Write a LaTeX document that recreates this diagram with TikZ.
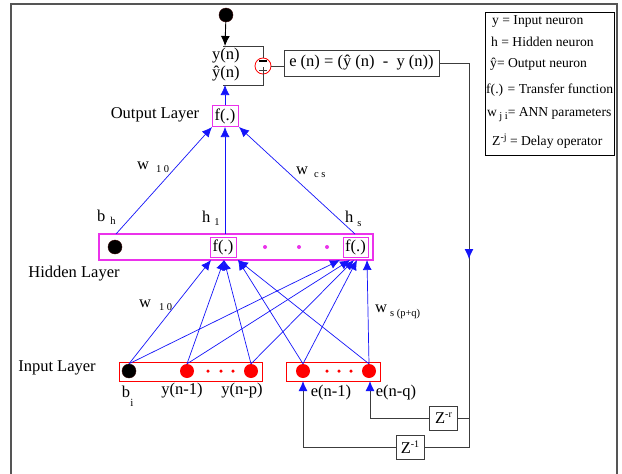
\documentclass[tikz,border=0pt]{standalone}
\usepackage{fontspec}
\setmainfont{Liberation Serif}
\usetikzlibrary{arrows.meta}
\definecolor{mag}{RGB}{235,50,235}
\definecolor{frm}{RGB}{85,85,85}
\definecolor{blu}{RGB}{20,20,250}
\definecolor{gln}{RGB}{60,60,60}
\newcommand\mysub[1]{\raisebox{-0.45ex}{\fontsize{10.5}{12}\selectfont #1}}
\newcommand\mysup[1]{\raisebox{0.75ex}{\fontsize{10}{12}\selectfont #1}}
\begin{document}
\begin{tikzpicture}[x=1pt,y=-1pt,
  lbl/.style={font=\fontsize{16.5}{18}\selectfont, inner sep=0},
  leg/.style={font=\fontsize{13.6}{15}\selectfont, inner sep=0, anchor=west},
  fbox/.style={draw=mag, line width=1pt, font=\fontsize{16.5}{18}\selectfont, minimum width=26pt, minimum height=21pt, inner sep=0},
  zbox/.style={draw=gln, line width=0.9pt, font=\fontsize{16.5}{18}\selectfont, minimum width=28pt, minimum height=24pt, inner sep=0},
  wire/.style={blu, line width=0.7pt, -{Latex[length=10pt,width=9pt]}},
  gline/.style={gln, line width=1pt},
  bdot/.style={circle, fill=black, draw=black!80!red, minimum size=14pt, inner sep=0},
  rdot/.style={circle, fill=red, minimum size=14pt, inner sep=0},
  sdot/.style={circle, fill=red, minimum size=3.5pt, inner sep=0},
  mdot/.style={circle, fill=mag, minimum size=4pt, inner sep=0}]
\useasboundingbox[fill=white] (0,0) rectangle (622,474);
% frame
\draw[frm, line width=1.6pt] (11,474) -- (11,4) -- (617,4) -- (617,474);

% legend
\node[draw=black, line width=0.8pt, minimum width=129pt, minimum height=143pt, inner sep=0] (legbox) at (549.5,83.5) {};
\node[leg] (l1) at (492,22) {y = Input neuron};
\node[leg] (l2) at (491,42) {h = Hidden neuron};
\node[leg] (l3) at (490,64) {ŷ= Output neuron};
\node[leg] (l4) at (486,90) {f(.) = Transfer function};
\node[leg] (l5) at (487,115) {w\,\mysub{j i}= ANN parameters};
\node[leg] (l6) at (492,141) {Z\mysup{-j} = Delay operator};

% top output section
\node[bdot] (td) at (226,15) {};
\coordinate (bt) at (223,46);
\coordinate (btm) at (225,46);
\coordinate (btr) at (263,46);
\coordinate (bbr) at (263,85);
\coordinate (bb) at (223,85);
\coordinate (bbm) at (225,85);
\node[circle, draw=red, fill=white, line width=0.8pt, minimum size=16pt, inner sep=0] (sum) at (263,66) {};
\draw[black, line width=2pt] (259,60.5) -- (267,60.5);
\draw[gln, line width=0.7pt] (259,70.5) -- (267,70.5) (263,67) -- (263,74);
\draw[black, line width=0.9pt, -{Latex[length=10pt,width=9pt]}] (td) -- (btm);
\draw[gline] (bt) -- (btr) -- (sum.north);
\draw[gline] (sum.south) -- (bbr) -- (bb);
\node[lbl, anchor=west] (yn) at (212,56) {y(n)};
\node[lbl, anchor=west] (yhn) at (212,74) {ŷ(n)};
\node[draw=gln, line width=0.9pt, minimum width=155pt, minimum height=26pt, inner sep=0, font=\fontsize{16.5}{18}\selectfont] (eb) at (361.5,63) {e (n) = (ŷ (n) ~-~ y (n))};
\draw[gline] (sum.east) -- (eb.west |- sum.east);

% feedback path
\node[zbox] (zr) at (443.5,418) {Z\mysup{-r}};
\node[zbox] (z1) at (410,447) {Z\mysup{-1}};
\coordinate (c1) at (469,63);
\coordinate (c2) at (469,418);
\coordinate (c3) at (469,447);
\coordinate (cm) at (469,259);
\coordinate (c4) at (370,418);
\coordinate (c5) at (303,447);
\draw[gline] (eb.east |- c1) -- (c1) -- (c3) -- (z1.east);
\draw[gline] (c2) -- (zr.east);
\draw[gline, -{Latex[length=10pt,width=9pt,color=blu]}] (c1) -- (cm);

% output layer
\node[fbox] (fo) at (225,116) {f(.)};
\node[lbl] (ol) at (155,115) {Output Layer};
\draw[wire] (fo.north) -- (bbm);

% hidden layer
\node[draw=mag, line width=1.2pt, minimum width=274pt, minimum height=26pt, inner sep=0] (hl) at (236,247) {};
\node[bdot] (bh) at (115,247) {};
\node[fbox, minimum height=20pt] (h1) at (223,247) {f(.)};
\node[fbox, minimum height=20pt, minimum width=25pt] (hs) at (355.5,247) {f(.)};
\node[mdot] (m1) at (265,247) {};
\node[mdot] (m2) at (299,247) {};
\node[mdot] (m3) at (327,247) {};
\node[lbl] (hll) at (74,274) {Hidden Layer};
\node[lbl, anchor=west] (lbh) at (97,217) {b\hspace{5pt}\mysub{h}};
\node[lbl, anchor=west] (lh1) at (202,218) {h\hspace{4pt}\mysub{1}};
\node[lbl, anchor=west] (lhs) at (345,219) {h\hspace{4pt}\mysub{s}};
\coordinate (hb) at (116,234);
\coordinate (h1t) at (225,234);
\coordinate (hst) at (355,234);
\coordinate (o1) at (212,127);
\coordinate (o2) at (225,127);
\coordinate (o3) at (239,127);
\draw[wire] (hb) -- (o1);
\draw[wire] (h1t) -- (o2);
\draw[wire] (hst) -- (o3);
\node[lbl, anchor=west] (w10a) at (137,167) {w\hspace{7pt}\mysub{1 0}};
\node[lbl, anchor=west] (wcs) at (296,172) {w\hspace{6pt}\mysub{c s}};

% input layer
\node[draw=red, line width=0.8pt, minimum width=143pt, minimum height=19pt, inner sep=0] (ib1) at (190.5,371.5) {};
\node[draw=red, line width=0.8pt, minimum width=94pt, minimum height=19pt, inner sep=0] (ib2) at (333,371.5) {};
\node[bdot] (bi) at (129,371) {};
\node[rdot] (y1) at (187,371) {};
\node[rdot] (yp) at (251,371) {};
\node[rdot] (e1) at (303,371) {};
\node[rdot] (eq) at (369,371) {};
\node[sdot] (s1) at (208,371) {};
\node[sdot] (s2) at (221,371) {};
\node[sdot] (s3) at (233,371) {};
\node[sdot] (s4) at (327,371) {};
\node[sdot] (s5) at (339,371) {};
\node[sdot] (s6) at (351,371) {};
\node[lbl] (ill) at (57,368) {Input Layer};
\node[lbl] (lbi) at (126,392) {b};
\node[inner sep=0, font=\fontsize{11}{12}\selectfont] (lbii) at (132,403) {i};
\node[lbl] (ly1) at (182,391) {y(n-1)};
\node[lbl] (lyp) at (242,391) {y(n-p)};
\node[lbl] (le1) at (331,393) {e(n-1)};
\node[lbl] (leq) at (396,393) {e(n-q)};
\node[lbl, anchor=west] (w10b) at (139,305) {w\hspace{8pt}\mysub{1 0}};
\node[lbl, anchor=west] (wspq) at (375,312) {w\hspace{3pt}\mysub{s (p+q)}};

% input -> hidden
\coordinate (t1) at (211,260);
\coordinate (t2) at (224,260);
\coordinate (t3) at (238,260);
\coordinate (u1) at (340,260);
\coordinate (u2) at (350,260);
\coordinate (u3) at (354,260);
\coordinate (u4) at (357,260);
\coordinate (u5) at (367,260);
\draw[wire] (bi.north) -- (t1);
\draw[wire] (bi.north) -- (u1);
\draw[wire] (y1.north) -- (t2);
\draw[wire] (y1.north) -- (u2);
\draw[wire] (yp.north) -- (t2);
\draw[wire] (yp.north) -- (u3);
\draw[wire] (e1.north) -- (t3);
\draw[wire] (e1.north) -- (u4);
\draw[wire] (eq.north) -- (t3);
\draw[wire] (eq.north) -- (u5);

% feedback into input
\coordinate (f1) at (370,381);
\coordinate (f2) at (303,381);
\draw[gline, -{Latex[length=10pt,width=9pt,color=blu]}] (zr.west) -- (c4) -- (f1);
\draw[gline, -{Latex[length=10pt,width=9pt,color=blu]}] (z1.west) -- (c5) -- (f2);
\end{tikzpicture}
\end{document}
